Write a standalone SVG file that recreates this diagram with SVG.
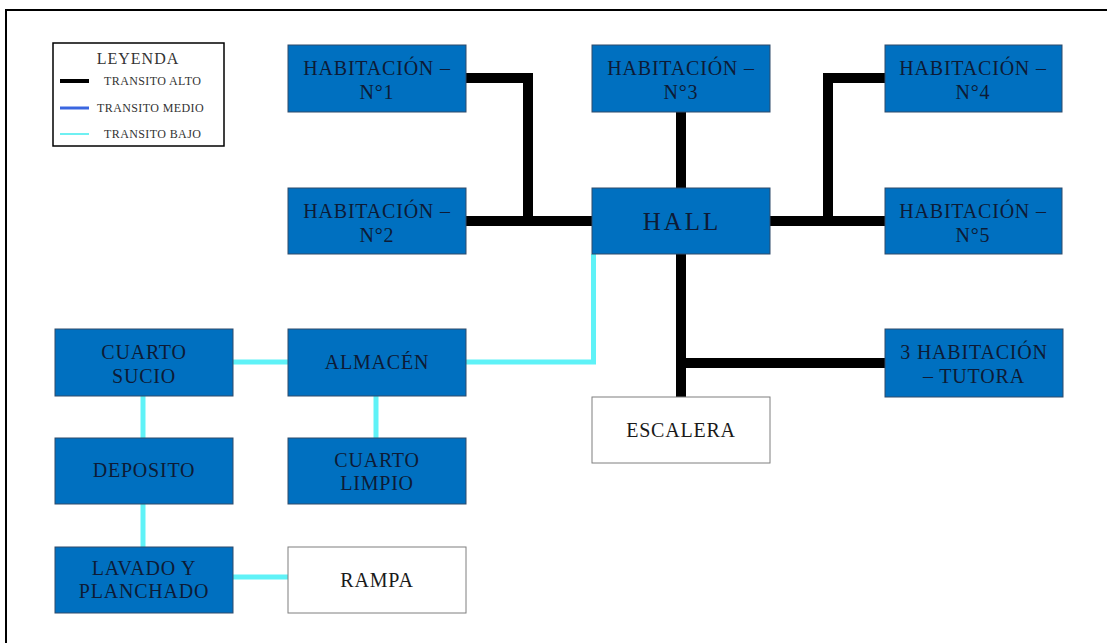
<svg xmlns="http://www.w3.org/2000/svg" width="1107" height="643" viewBox="0 0 1107 643">
  <style>
    .room { fill: #0070c0; stroke: #2e4a6a; stroke-width: 1; }
    .plain { fill: #ffffff; stroke: #7f7f7f; stroke-width: 1; }
    .lbl { font-family: "Liberation Serif", "Times New Roman", serif; font-size: 20px; fill: #0d1b36; text-anchor: middle; letter-spacing: 0.8px; }
    .lbl-dark { font-family: "Liberation Serif", "Times New Roman", serif; font-size: 20px; fill: #1a1a1a; text-anchor: middle; letter-spacing: 0.8px; }
    .big { font-size: 25px; letter-spacing: 3px; }
    .high { stroke: #000000; stroke-width: 10; fill: none; stroke-linejoin: miter; stroke-linecap: butt; }
    .low { stroke: #5ff2f7; stroke-width: 5; fill: none; stroke-linecap: butt; }
    .leg { font-family: "Liberation Serif", "Times New Roman", serif; font-size: 12px; fill: #333333; letter-spacing: 0.4px; }
    .leg-title { font-size: 16px; letter-spacing: 1px; text-anchor: middle; }
  </style>

  <rect width="1107" height="643" fill="#ffffff"/>
  <!-- page frame -->
  <path d="M6 643 V10 H1107" fill="none" stroke="#000000" stroke-width="2"/>

  <!-- legend -->
  <g id="legend">
    <rect x="53" y="43" width="171" height="103" fill="#ffffff" stroke="#000000" stroke-width="1.5"/>
    <text x="138" y="64" class="leg leg-title">LEYENDA</text>
    <line x1="60" y1="81" x2="89" y2="81" stroke="#000000" stroke-width="4"/>
    <text x="104" y="85" class="leg">TRANSITO ALTO</text>
    <line x1="60" y1="108" x2="89" y2="108" stroke="#3a66e0" stroke-width="3"/>
    <text x="97" y="112" class="leg">TRANSITO MEDIO</text>
    <line x1="60" y1="134" x2="89" y2="134" stroke="#6ff0f2" stroke-width="2"/>
    <text x="104" y="138" class="leg">TRANSITO BAJO</text>
  </g>

  <!-- connectors -->
  <g id="connectors">
    <!-- high traffic -->
    <path class="high" d="M466 78 H528 V221"/>
    <path class="high" d="M466 221 H592"/>
    <path class="high" d="M681 112 V188"/>
    <path class="high" d="M770 221 H885"/>
    <path class="high" d="M885 78 H828 V221"/>
    <path class="high" d="M681 254 V397"/>
    <path class="high" d="M681 363 H885"/>
    <!-- low traffic -->
    <path class="low" d="M466 362 H593.5 V254"/>
    <path class="low" d="M233 362 H288"/>
    <path class="low" d="M376 396 V438"/>
    <path class="low" d="M143 396 V438"/>
    <path class="low" d="M143 504 V547"/>
    <path class="low" d="M233 577 H288"/>
  </g>

  <!-- rooms -->
  <g id="hab1">
    <rect class="room" x="288" y="45" width="178" height="67"/>
    <text class="lbl" x="377" y="75">HABITACIÓN –</text>
    <text class="lbl" x="377" y="99">N°1</text>
  </g>
  <g id="hab2">
    <rect class="room" x="288" y="188" width="178" height="66"/>
    <text class="lbl" x="377" y="218">HABITACIÓN –</text>
    <text class="lbl" x="377" y="242">N°2</text>
  </g>
  <g id="hab3">
    <rect class="room" x="592" y="45" width="178" height="67"/>
    <text class="lbl" x="681" y="75">HABITACIÓN –</text>
    <text class="lbl" x="681" y="99">N°3</text>
  </g>
  <g id="hall">
    <rect class="room" x="592" y="188" width="178" height="66"/>
    <text class="lbl big" x="682" y="230">HALL</text>
  </g>
  <g id="hab4">
    <rect class="room" x="885" y="45" width="177" height="67"/>
    <text class="lbl" x="973" y="75">HABITACIÓN –</text>
    <text class="lbl" x="973" y="99">N°4</text>
  </g>
  <g id="hab5">
    <rect class="room" x="885" y="188" width="177" height="66"/>
    <text class="lbl" x="973" y="218">HABITACIÓN –</text>
    <text class="lbl" x="973" y="242">N°5</text>
  </g>
  <g id="tutora">
    <rect class="room" x="885" y="329" width="178" height="68"/>
    <text class="lbl" x="974" y="359">3 HABITACIÓN</text>
    <text class="lbl" x="974" y="383">– TUTORA</text>
  </g>
  <g id="escalera">
    <rect class="plain" x="592" y="397" width="178" height="66"/>
    <text class="lbl-dark" x="681" y="437">ESCALERA</text>
  </g>
  <g id="cuarto-sucio">
    <rect class="room" x="55" y="329" width="178" height="67"/>
    <text class="lbl" x="144" y="359">CUARTO</text>
    <text class="lbl" x="144" y="383">SUCIO</text>
  </g>
  <g id="almacen">
    <rect class="room" x="288" y="329" width="178" height="67"/>
    <text class="lbl" x="377" y="369">ALMACÉN</text>
  </g>
  <g id="deposito">
    <rect class="room" x="55" y="438" width="178" height="66"/>
    <text class="lbl" x="144" y="477">DEPOSITO</text>
  </g>
  <g id="cuarto-limpio">
    <rect class="room" x="288" y="438" width="178" height="66"/>
    <text class="lbl" x="377" y="467">CUARTO</text>
    <text class="lbl" x="377" y="490">LIMPIO</text>
  </g>
  <g id="lavado">
    <rect class="room" x="55" y="547" width="178" height="66"/>
    <text class="lbl" x="144" y="575">LAVADO Y</text>
    <text class="lbl" x="144" y="598">PLANCHADO</text>
  </g>
  <g id="rampa">
    <rect class="plain" x="288" y="547" width="178" height="66"/>
    <text class="lbl-dark" x="377" y="587">RAMPA</text>
  </g>
</svg>
